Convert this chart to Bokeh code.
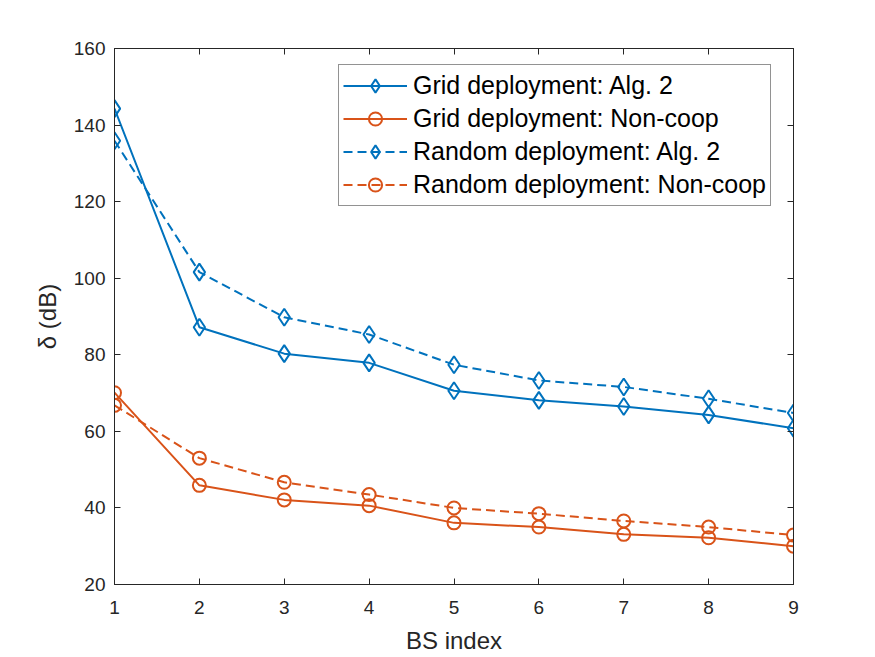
from bokeh.plotting import figure
from bokeh.models import (Range1d, LinearAxis, FixedTicker, Legend, LegendItem,
                          CustomJSTickFormatter)
from bokeh.embed import file_html
from bokeh.resources import INLINE

# BS index on the x axis
bs_index = [1, 2, 3, 4, 5, 6, 7, 8, 9]

# delta (dB) per BS for each scheme
grid_alg2 = [144.3, 87.2, 80.3, 77.9, 70.6, 68.1, 66.5, 64.3, 60.8]
grid_noncoop = [70.1, 45.9, 42.1, 40.6, 36.1, 35.0, 33.1, 32.2, 30.0]
random_alg2 = [135.9, 101.6, 89.8, 85.3, 77.4, 73.3, 71.6, 68.5, 64.8]
random_noncoop = [66.8, 53.0, 46.7, 43.5, 40.0, 38.5, 36.6, 35.0, 32.9]

x_ticks = [1, 2, 3, 4, 5, 6, 7, 8, 9]
y_ticks = [20, 40, 60, 80, 100, 120, 140, 160]

BLUE = "#0072BD"
ORANGE = "#D95319"
AX = "#262626"
FONT = "Liberation Sans"

p = figure(width=875, height=657, output_backend="svg", toolbar_location=None,
           x_range=Range1d(1, 9), y_range=Range1d(20, 160),
           min_border_left=114, min_border_right=82,
           min_border_top=48, min_border_bottom=73,
           background_fill_color="white", border_fill_color="white")

p.xgrid.visible = False
p.ygrid.visible = False
p.outline_line_color = AX
p.outline_line_width = 1


def style_axis(ax, ticks, show_labels):
    ax.ticker = FixedTicker(ticks=ticks)
    ax.axis_line_color = AX
    ax.major_tick_line_color = AX
    ax.major_tick_in = 6
    ax.major_tick_out = 0
    ax.minor_tick_line_color = None
    ax.major_label_text_font = FONT
    ax.major_label_text_font_size = "19px"
    ax.major_label_text_color = AX
    ax.axis_label_text_font = FONT
    ax.axis_label_text_font_size = "24px"
    ax.axis_label_text_font_style = "normal"
    ax.axis_label_text_color = AX
    if not show_labels:
        ax.formatter = CustomJSTickFormatter(code="return ''")


style_axis(p.xaxis[0], x_ticks, True)
style_axis(p.yaxis[0], y_ticks, True)
p.xaxis[0].major_label_standoff = 16
p.yaxis[0].major_label_standoff = 9
p.xaxis[0].axis_label = "BS index"
p.xaxis[0].axis_label_standoff = 10
p.yaxis[0].axis_label = "δ (dB)"
p.yaxis[0].axis_label_standoff = 10

# mirrored tick marks on the top and right edges of the box
top_ax = LinearAxis()
style_axis(top_ax, x_ticks, False)
p.add_layout(top_ax, "above")
right_ax = LinearAxis()
style_axis(right_ax, y_ticks, False)
p.add_layout(right_ax, "right")

series = [
    ("Grid deployment: Alg. 2", grid_alg2, BLUE, "solid", "diamond", 17),
    ("Grid deployment: Non-coop", grid_noncoop, ORANGE, "solid", "circle", 13),
    ("Random deployment: Alg. 2", random_alg2, BLUE, "9 5", "diamond", 17),
    ("Random deployment: Non-coop", random_noncoop, ORANGE, "9 5", "circle", 13),
]

items = []
for name, ys, color, dash, marker, size in series:
    ln = p.line(bs_index, ys, line_color=color, line_width=2, line_dash=dash)
    mk = p.scatter(bs_index, ys, marker=marker, size=size, line_color=color,
                   line_width=2, fill_alpha=0)
    items.append(LegendItem(label=name, renderers=[ln, mk]))

# tall glyph boxes so the legend markers come out at plot size
legend = Legend(items=items, location=(224, 378),
                label_text_font=FONT, label_text_font_size="25px",
                label_text_color="black",
                glyph_width=64, glyph_height=33, label_height=33,
                label_standoff=6, padding=4, spacing=0, margin=0,
                border_line_color=AX, border_line_width=1,
                background_fill_color="white", background_fill_alpha=1)
p.add_layout(legend, "center")

open("out.html", "w").write(file_html(p, INLINE))
